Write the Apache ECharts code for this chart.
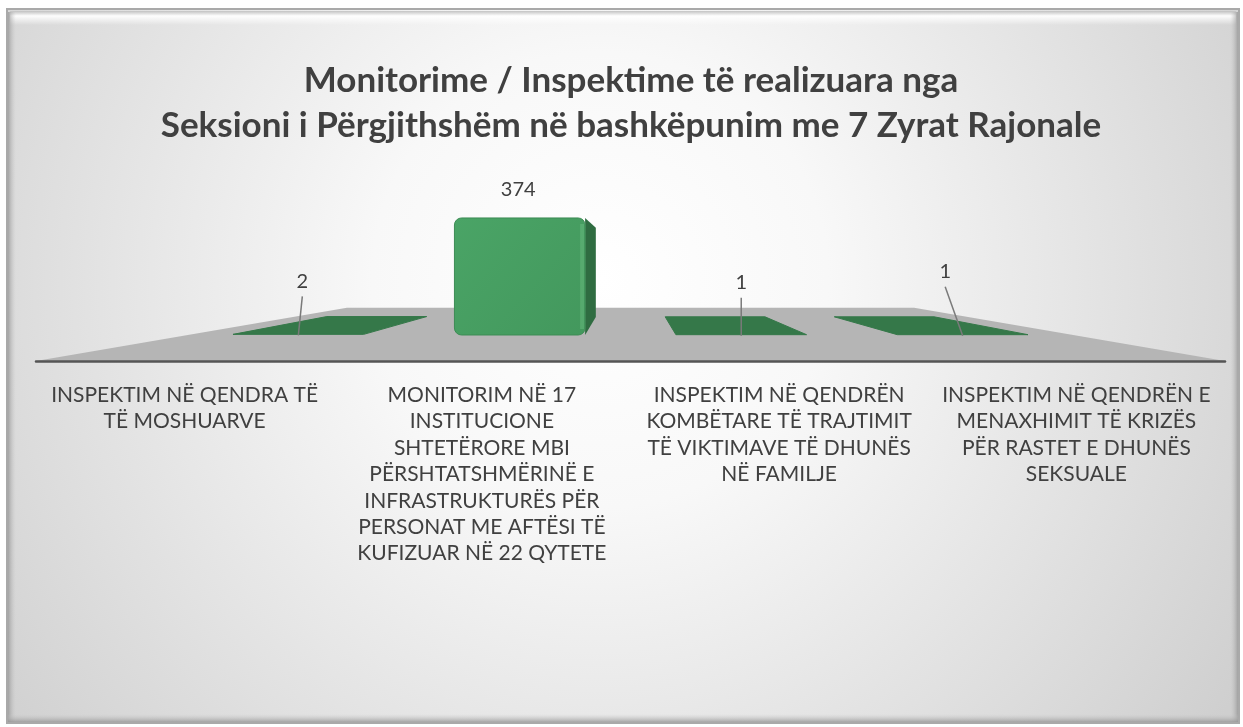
<!DOCTYPE html>
<html>
<head>
<meta charset="utf-8">
<title>Monitorime / Inspektime</title>
<script src="https://cdn.jsdelivr.net/npm/echarts@6/dist/echarts.min.js"></script>
<style>
  html, body { margin: 0; padding: 0; background: #ffffff; }
  #chart { width: 1243px; height: 727px; }
</style>
</head>
<body>
<div id="chart"></div>
<script>
// Categories (line breaks follow the wrapped labels under the axis)
const categories = [
  'INSPEKTIM NË QENDRA TË\nTË MOSHUARVE',
  'MONITORIM NË 17\nINSTITUCIONE\nSHTETËRORE MBI\nPËRSHTATSHMËRINË E\nINFRASTRUKTURËS PËR\nPERSONAT ME AFTËSI TË\nKUFIZUAR NË 22 QYTETE',
  'INSPEKTIM NË QENDRËN\nKOMBËTARE TË TRAJTIMIT\nTË VIKTIMAVE TË DHUNËS\nNË FAMILJE',
  'INSPEKTIM NË QENDRËN E\nMENAXHIMIT TË KRIZËS\nPËR RASTET E DHUNËS\nSEKSUALE'
];
const values = [2, 374, 1, 1];

const titleLines = [
  'Monitorime / Inspektime të realizuara nga',
  'Seksioni i Përgjithshëm në bashkëpunim me 7 Zyrat Rajonale'
];

// Perspective of the 3D floor: horizon sits DEPTH px above the front edge,
// each depth plane is a scale factor toward the vanishing point.
const DEPTH = 102;
const S_FRONT = 0.745;  // front face of the columns
const S_BACK = 0.569;   // back face of the columns
const S_FLOOR_BACK = 0.477;
const BAR_RATIO = 0.59;

// Where each value label sits relative to the column's front-top centre
const labelNudge = [[4, -53], [-1.5, -28], [0, -52], [-17.5, -63]];

const TEXT = '#404040';
const FONT = 'Lato, "Open Sans", sans-serif';

function projector(cs) {
  const cx0 = cs.x + cs.width / 2;
  const base = cs.y + cs.height;
  const horizon = base - DEPTH;
  return function (x, y, s) {
    return [cx0 + x * s, horizon + DEPTH * s - y * s];
  };
}

function renderFloor(params, api) {
  const cs = params.coordSys;
  const P = projector(cs);
  const hw = cs.width / 2;
  return {
    type: 'polygon',
    shape: { points: [P(-hw, 0, 1), P(hw, 0, 1), P(hw, 0, S_FLOOR_BACK), P(-hw, 0, S_FLOOR_BACK)] },
    style: { fill: '#b5b5b5' },
    silent: true
  };
}

function renderColumn(params, api) {
  const cs = params.coordSys;
  const cx0 = cs.x + cs.width / 2;
  const P = projector(cs);
  const idx = params.dataIndex;
  const i = api.value(0);
  const v = api.value(1);
  const X = api.coord([i, 0])[0] - cx0;
  const half = api.size([1, 0])[0] * BAR_RATIO / 2;
  const H = api.size([0, v])[1];
  const children = [];

  const xl = X - half, xr = X + half;
  const frontTop = P(X, H, S_FRONT)[1];
  const backTop = P(X, H, S_BACK)[1];
  const flat = H * S_FRONT < 3;

  // top face (only when it faces the viewer)
  if (backTop < frontTop) {
    children.push({
      type: 'polygon',
      shape: { points: [P(xl, H, S_FRONT), P(xr, H, S_FRONT), P(xr, H, S_BACK), P(xl, H, S_BACK)] },
      style: { fill: '#357849', stroke: '#357849', lineWidth: 1, lineJoin: 'round' }
    });
  }
  // visible side face and front face
  if (!flat) {
    const sx = X < 0 ? xr : xl;
    children.push({
      type: 'polygon',
      shape: { points: [P(sx, 0, S_FRONT), P(sx, 0, S_BACK), P(sx, H, S_BACK), P(sx, H, S_FRONT)] },
      style: { fill: '#2f6c41' }
    });
    const fl = P(xl, H, S_FRONT), fr = P(xr, 0, S_FRONT);
    children.push({
      type: 'rect',
      shape: { x: fl[0], y: fl[1], width: fr[0] - fl[0], height: fr[1] - fl[1], r: 7 },
      style: {
        fill: {
          type: 'linear', x: 0, y: 0, x2: 1, y2: 1,
          colorStops: [{ offset: 0, color: '#4aa466' }, { offset: 1, color: '#43985d' }]
        },
        stroke: '#3d8c55', lineWidth: 1
      }
    });
    // light bevel along the right edge of the front face
    children.push({
      type: 'rect',
      shape: { x: fr[0] - 5, y: fl[1] + 6, width: 4, height: fr[1] - fl[1] - 12 },
      style: { fill: 'rgba(120,200,140,0.35)' }
    });
  }

  // value label
  const anchor = P(X, H, S_FRONT);
  const nudge = labelNudge[idx] || [0, -28];
  const lx = anchor[0] + nudge[0];
  const ly = anchor[1] + nudge[1];
  if (flat) {
    children.push({
      type: 'line',
      shape: { x1: anchor[0], y1: anchor[1] + 1, x2: lx, y2: ly + 15 },
      style: { stroke: '#7a7a7a', lineWidth: 1.5 }
    });
  }
  children.push({
    type: 'text',
    x: lx, y: ly,
    style: {
      text: String(v), fill: TEXT, font: '20px ' + FONT,
      align: 'center', verticalAlign: 'middle'
    }
  });

  return { type: 'group', children: children };
}

const chart = echarts.init(document.getElementById('chart'), null, { renderer: 'canvas' });

const option = {
  backgroundColor: '#ffffff',
  animation: false,
  graphic: [
    {
      type: 'rect', z: -10, silent: true,
      shape: { x: 7, y: 9, width: 1232, height: 714 },
      style: {
        fill: {
          type: 'radial', x: 600, y: 280, r: 760, global: true,
          colorStops: [
            { offset: 0, color: '#ffffff' },
            { offset: 0.3, color: '#f8f8f8' },
            { offset: 1, color: '#cfcfcf' }
          ]
        },
        stroke: '#a9a9a9', lineWidth: 2
      }
    },
    // bevel: bright top band
    {
      type: 'rect', z: -9, silent: true,
      shape: { x: 10, y: 11, width: 1226, height: 14 },
      style: {
        fill: {
          type: 'linear', x: 0, y: 0, x2: 0, y2: 1,
          colorStops: [
            { offset: 0, color: 'rgba(190,190,190,0.9)' },
            { offset: 0.35, color: 'rgba(255,255,255,0.95)' },
            { offset: 1, color: 'rgba(255,255,255,0)' }
          ]
        }
      }
    },
    // bevel: left shade
    {
      type: 'rect', z: -9, silent: true,
      shape: { x: 8, y: 12, width: 8, height: 710 },
      style: {
        fill: {
          type: 'linear', x: 0, y: 0, x2: 1, y2: 0,
          colorStops: [
            { offset: 0, color: 'rgba(150,150,150,0.8)' },
            { offset: 1, color: 'rgba(200,200,200,0)' }
          ]
        }
      }
    },
    // bevel: right shade
    {
      type: 'rect', z: -9, silent: true,
      shape: { x: 1230, y: 12, width: 8, height: 710 },
      style: {
        fill: {
          type: 'linear', x: 0, y: 0, x2: 1, y2: 0,
          colorStops: [
            { offset: 0, color: 'rgba(200,200,200,0)' },
            { offset: 1, color: 'rgba(150,150,150,0.8)' }
          ]
        }
      }
    },
    // bevel: bottom shade
    {
      type: 'rect', z: -9, silent: true,
      shape: { x: 8, y: 714, width: 1230, height: 8 },
      style: {
        fill: {
          type: 'linear', x: 0, y: 0, x2: 0, y2: 1,
          colorStops: [
            { offset: 0, color: 'rgba(200,200,200,0)' },
            { offset: 1, color: 'rgba(150,150,150,0.8)' }
          ]
        }
      }
    }
  ],
  title: {
    text: titleLines.join('\n'),
    left: 626,
    top: 53,
    textAlign: 'center',
    textStyle: {
      fontFamily: FONT, fontSize: 35, fontWeight: 'bold',
      color: TEXT, lineHeight: 45
    }
  },
  grid: { left: 36, right: 18, top: 193, bottom: 366 },
  xAxis: {
    type: 'category',
    data: categories,
    z: 5,
    axisLine: { lineStyle: { color: '#555555', width: 2.5 } },
    axisTick: { length: 5, lineStyle: { color: '#404040', width: 2 } },
    axisLabel: {
      color: TEXT, fontFamily: FONT, fontSize: 21,
      lineHeight: 26.4, margin: 21, interval: 0, align: 'center'
    },
    splitLine: { show: false }
  },
  yAxis: { type: 'value', min: 0, max: 400, show: false },
  series: [
    {
      type: 'custom', name: 'floor', z: 1, silent: true,
      renderItem: renderFloor,
      data: [[0, 0]]
    },
    {
      type: 'custom', name: 'Monitorime / Inspektime', z: 3,
      renderItem: renderColumn,
      encode: { x: 0, y: 1 },
      data: values.map((v, i) => [i, v])
    }
  ]
};

chart.setOption(option);
</script>
</body>
</html>
